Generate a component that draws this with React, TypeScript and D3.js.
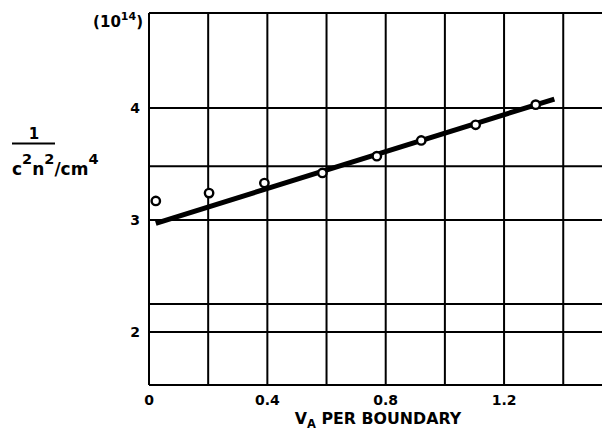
import React from 'react';
import * as d3 from 'd3';

// measured points (V_A per boundary, 1/c²n² in 10^14 cm^-4)
const pointX = [0.023, 0.203, 0.39, 0.586, 0.77, 0.92, 1.104, 1.307];
const pointY = [3.17, 3.24, 3.33, 3.42, 3.57, 3.71, 3.85, 4.03];
// fitted straight line
const fitX = [0.023, 1.37];
const fitY = [2.97, 4.08];
// grid
const xGrid = [0, 0.2, 0.4, 0.6, 0.8, 1.0, 1.2, 1.4];
const yGrid = [2, 2.25, 3, 3.48, 4];
const xTicks = [0, 0.4, 0.8, 1.2];
const xTickLabels = ['0', '0.4', '0.8', '1.2'];
const yTicks = [2, 3, 4];

const W = 602, H = 434;
const FONT = '"DejaVu Sans", "Liberation Sans", Arial, sans-serif';

const App = () => {
    const x = d3.scaleLinear().domain([0, 1.531]).range([149, 602]);
    const y = d3.scaleLinear().domain([1.527, 4.848]).range([385, 13]);
    const [x0, x1] = x.range();
    const [yb, yt] = y.range();

    const line = d3.line<number>()
        .x((d, i) => x(fitX[i]))
        .y((d, i) => y(fitY[i]));

    return (
        <svg width={W} height={H} style={{position: 'absolute', left: 0, top: 0, background: '#fff'}}
             fontFamily={FONT} fontWeight="bold">
            {/* grid */}
            {xGrid.map(v => (
                <line key={'vx' + v} x1={x(v)} x2={x(v)} y1={yt} y2={yb} stroke="#000" strokeWidth={2} />
            ))}
            {yGrid.map(v => (
                <line key={'hy' + v} x1={x0} x2={x1} y1={y(v)} y2={y(v)} stroke="#000" strokeWidth={2} />
            ))}
            <line x1={x0} x2={x1} y1={yt} y2={yt} stroke="#000" strokeWidth={2} />
            <line x1={x0} x2={x1} y1={yb} y2={yb} stroke="#000" strokeWidth={2} />

            {/* fitted line */}
            <path d={line(fitX) || ''} fill="none" stroke="#000" strokeWidth={5} />

            {/* points */}
            {pointX.map((v, i) => (
                <circle key={i} cx={x(v)} cy={y(pointY[i])} r={4.2} fill="#fff" stroke="#000" strokeWidth={2.4} />
            ))}

            {/* y tick labels */}
            {yTicks.map(v => (
                <text key={'yt' + v} x={140} y={y(v)} dy="0.36em" textAnchor="end" fontSize={14}>{v}</text>
            ))}
            <text x={143} y={27} textAnchor="end" fontSize={15}>
                (10<tspan dy={-7} fontSize={11}>14</tspan><tspan dy={7}>)</tspan>
            </text>

            {/* x tick labels */}
            {xTicks.map((v, i) => (
                <text key={'xt' + v} x={x(v)} y={405} textAnchor="middle" fontSize={14}>{xTickLabels[i]}</text>
            ))}

            {/* axis titles */}
            <text x={378} y={424} textAnchor="middle" fontSize={15.8}>
                V<tspan dy={4} fontSize={11.5}>A</tspan><tspan dy={-4}> PER BOUNDARY</tspan>
            </text>
            <text x={34} y={139} textAnchor="middle" fontSize={15}>1</text>
            <line x1={12} x2={55} y1={143.5} y2={143.5} stroke="#000" strokeWidth={2} />
            <text x={12} y={175} fontSize={17}>
                c<tspan dy={-11} fontSize={14.5}>2</tspan><tspan dy={11}>n</tspan>
                <tspan dy={-11} fontSize={14.5}>2</tspan><tspan dy={11}>/cm</tspan>
                <tspan dy={-11} fontSize={14.5}>4</tspan>
            </text>
        </svg>
    );
};

export default App;
